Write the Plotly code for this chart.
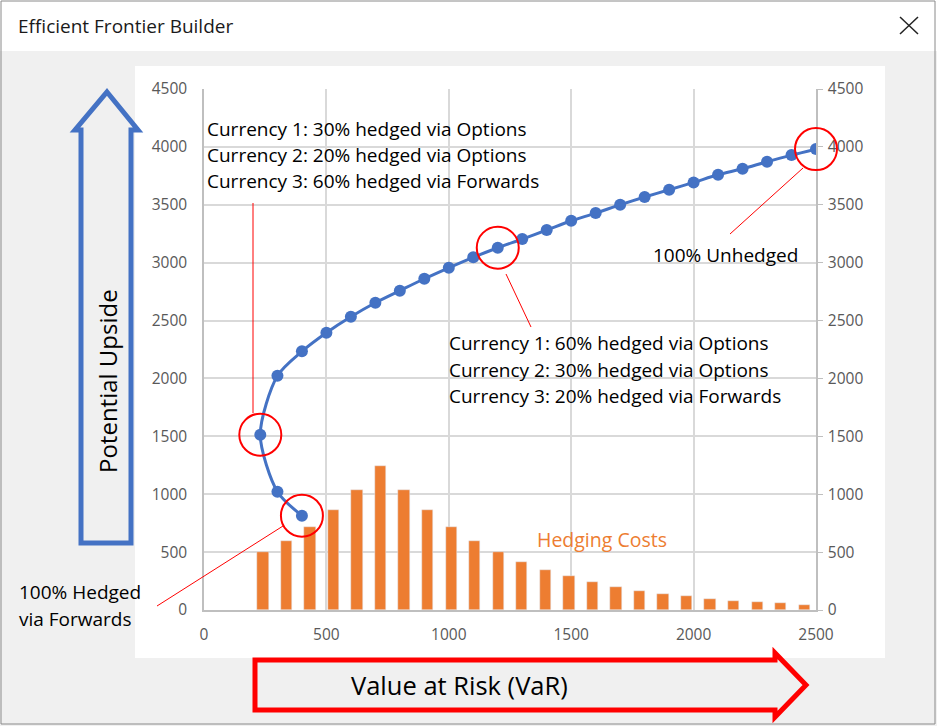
import plotly.graph_objects as go

# efficient frontier: value at risk vs potential upside
var_x = [400, 300, 230, 300, 400, 500, 600, 700, 800, 900, 1000, 1100, 1200,
         1300, 1400, 1500, 1600, 1700, 1800, 1900, 2000, 2100, 2200, 2300, 2400, 2500]
upside = [815, 1022, 1514, 2023, 2234, 2395, 2533, 2654, 2758, 2861, 2956, 3046, 3129,
          3204, 3282, 3362, 3428, 3500, 3567, 3630, 3693, 3759, 3811, 3872, 3929, 3981]

# hedging costs, one category per frontier point (first two empty)
cost_cat = list(range(26))
hedging_costs = [None, None, 500, 600, 720, 864, 1037, 1244, 1037, 864, 720, 600, 500,
                 415, 347, 292, 242, 201, 165, 139, 122, 96, 80, 68, 58, 47]

x_ticks = [0, 500, 1000, 1500, 2000, 2500]
y_ticks = [0, 500, 1000, 1500, 2000, 2500, 3000, 3500, 4000, 4500]
X_MAX, Y_MAX = 2500, 4500

highlight = [0, 2, 12, 25]

BLUE = "#4472c4"
ORANGE = "#ed7d31"
FONT = "Open Sans"

W, H = 937, 726
L, R, T, B = 204, 816, 89, 610


def px(x):
    return (x - L) / (R - L)


def py(y):
    return (B - y) / (B - T)


def path(points):
    return "M " + " L ".join(f"{px(a):.5f},{py(b):.5f}" for a, b in points) + " Z"


fig = go.Figure()

fig.add_trace(go.Bar(
    x=cost_cat, y=hedging_costs, xaxis="x2", yaxis="y2",
    marker_color=ORANGE, width=0.48, showlegend=False, hoverinfo="skip"))

fig.add_trace(go.Scatter(
    x=var_x, y=upside, mode="lines+markers",
    line=dict(color=BLUE, width=3, shape="spline", smoothing=0.8),
    marker=dict(color=BLUE, size=12), showlegend=False))

axis_common = dict(
    showline=True, linecolor="#bfbfbf", linewidth=1.5, zeroline=False,
    tickfont=dict(family=FONT, size=15.5, color="#595959"))

fig.update_layout(
    width=W, height=H,
    margin=dict(l=L, r=W - R, t=T, b=H - B),
    paper_bgcolor="#f0f0f0", plot_bgcolor="white",
    xaxis=dict(range=[0, X_MAX], tickvals=x_ticks, showgrid=True,
               gridcolor="#d9d9d9", gridwidth=1.5, ticklabelstandoff=10, **axis_common),
    yaxis=dict(range=[0, Y_MAX], tickvals=y_ticks, showgrid=True,
               gridcolor="#d9d9d9", gridwidth=1.5, ticklabelstandoff=12, **axis_common),
    xaxis2=dict(range=[-0.5, 25.5], overlaying="x", visible=False),
    yaxis2=dict(range=[0, Y_MAX], tickvals=y_ticks, overlaying="y", side="right",
                showgrid=False, ticks="outside", ticklen=5, tickcolor="#bfbfbf",
                ticklabelstandoff=2, **axis_common),
    bargap=0,
)

shapes = []
# dialog title bar and chart area
shapes.append(dict(type="rect", xref="paper", yref="paper", layer="below",
                   x0=px(0), x1=px(W), y0=py(51), y1=py(0),
                   fillcolor="white", line_width=0))
shapes.append(dict(type="rect", xref="paper", yref="paper", layer="below",
                   x0=px(135), x1=px(885), y0=py(658), y1=py(66),
                   fillcolor="white", line_width=0))
shapes.append(dict(type="rect", xref="paper", yref="paper",
                   x0=px(1), x1=px(935), y0=py(724), y1=py(1),
                   line=dict(color="#8a8a8a", width=1)))
# close "X"
for a, b, c, d in [(900, 17, 918, 34), (918, 17, 900, 34)]:
    shapes.append(dict(type="line", xref="paper", yref="paper",
                       x0=px(a), y0=py(b), x1=px(c), y1=py(d),
                       line=dict(color="#222222", width=1.5)))

# highlight circles round chosen frontier points (paper refs so they are not clipped)
for i in highlight:
    shapes.append(dict(type="circle", xref="paper", yref="paper",
                       xsizemode="pixel", ysizemode="pixel",
                       xanchor=var_x[i] / X_MAX, yanchor=upside[i] / Y_MAX,
                       x0=-21, x1=21, y0=-21, y1=21,
                       line=dict(color="red", width=2)))

# callout lines
for a, b, c, d in [(253, 203, 253, 413), (283, 526, 157, 606),
                   (506, 274, 531, 327), (803, 168, 730, 234)]:
    shapes.append(dict(type="line", xref="paper", yref="paper",
                       x0=px(a), y0=py(b), x1=px(c), y1=py(d),
                       line=dict(color="red", width=1)))

# big outlined arrows
shapes.append(dict(type="path", xref="paper", yref="paper",
                   path=path([(107, 92), (138, 130), (131, 130), (131, 543),
                              (81, 543), (81, 130), (75, 130)]),
                   line=dict(color=BLUE, width=5), fillcolor="rgba(0,0,0,0)"))
shapes.append(dict(type="path", xref="paper", yref="paper",
                   path=path([(255, 660), (775, 660), (775, 653), (806, 685),
                              (775, 717), (775, 710), (255, 710)]),
                   line=dict(color="#ff0000", width=5), fillcolor="rgba(0,0,0,0)"))

fig.update_layout(shapes=shapes)


def note(text, x, y, size=19, color="black", xanchor="left", angle=0):
    fig.add_annotation(text=text, xref="paper", yref="paper", x=px(x), y=py(y),
                       xanchor=xanchor, yanchor="middle", showarrow=False,
                       textangle=angle, font=dict(family=FONT, size=size, color=color))


note("Efficient Frontier Builder", 16, 26, size=19, color="#1a1a1a")
note("Currency 1: 30% hedged via Options", 205, 129)
note("Currency 2: 20% hedged via Options", 205, 155)
note("Currency 3: 60% hedged via Forwards", 205, 181)
note("Currency 1: 60% hedged via Options", 447, 343)
note("Currency 2: 30% hedged via Options", 447, 370)
note("Currency 3: 20% hedged via Forwards", 447, 396)
note("100% Unhedged", 725, 255, xanchor="center")
note("100% Hedged", 17, 592)
note("via Forwards", 17, 619)
note("Hedging Costs", 602, 539, size=19.5, color=ORANGE, xanchor="center")
note("Potential Upside", 107, 381, size=24, xanchor="center", angle=-90)
note("Value at Risk (VaR)", 459, 685, size=25.5, xanchor="center")

fig.write_html("out.html", config={"displayModeBar": False},
               post_script="document.body.style.margin='0';")
